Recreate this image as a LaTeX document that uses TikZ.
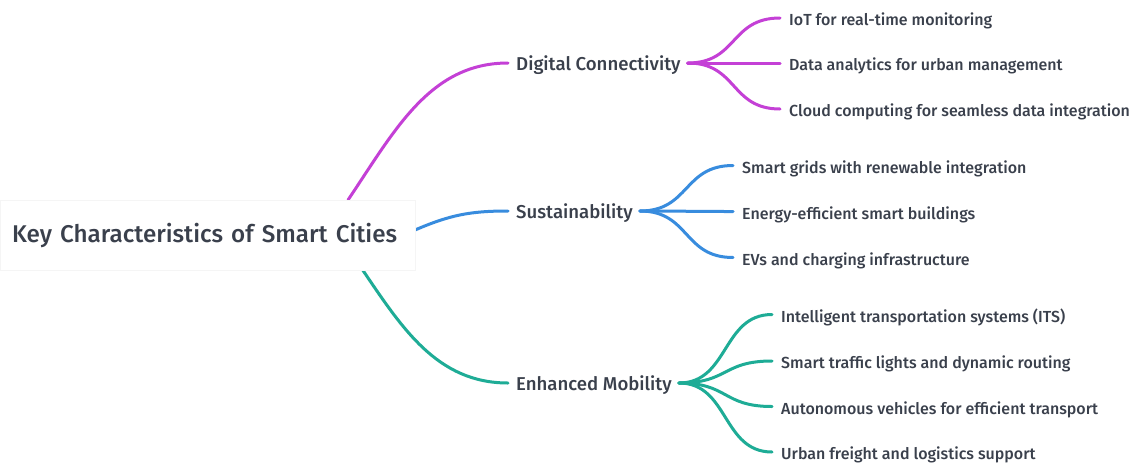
\documentclass[tikz,border=0pt]{standalone}
\usepackage{fontspec}
\setmainfont{Fira Sans}[UprightFont={* Medium}]
\usetikzlibrary{calc,backgrounds}
\definecolor{txt}{RGB}{58,64,76}
\definecolor{cmag}{RGB}{196,64,214}
\definecolor{cblu}{RGB}{56,140,222}
\definecolor{cteal}{RGB}{30,172,150}
\begin{document}
\begin{tikzpicture}[x=1pt,y=-1pt,
  link/.style={line width=3pt, line cap=round},
  rootbox/.style={anchor=west, fill=white, draw=black!4, text width=391pt, inner xsep=12pt, minimum height=70pt, align=left, text=txt, font=\fontsize{24.2}{24.2}\selectfont},
  lbl/.style={anchor=base west, inner sep=0pt, text=txt, font=\fontsize{18.6}{18.6}\selectfont},
  leaf/.style={anchor=base west, inner sep=0pt, text=txt, font=\fontsize{16}{16}\selectfont},
]
\useasboundingbox (0,0) rectangle (1137,464);
% root
\node[rootbox] (root) at (0,235) {Key Characteristics of Smart Cities};
% branches
\node[lbl] (dc) at (516,70.5) {Digital Connectivity};
\node[lbl] (su) at (516,218.5) {Sustainability};
\node[lbl] (em) at (516,390.5) {Enhanced Mobility};
% leaves
\node[leaf] (d1) at (789,25.5) {IoT for real-time monitoring};
\node[leaf] (d2) at (789,70.5) {Data analytics for urban management};
\node[leaf] (d3) at (789,116.5) {Cloud computing for seamless data integration};
\node[leaf] (s1) at (742,173) {Smart grids with renewable integration};
\node[leaf] (s2) at (742,219) {Energy-efficient smart buildings};
\node[leaf] (s3) at (742,265) {EVs and charging infrastructure};
\node[leaf] (e1) at (781,322) {Intelligent transportation systems (ITS)};
\node[leaf] (e2) at (781,368.5) {Smart traffic lights and dynamic routing};
\node[leaf] (e3) at (781,414) {Autonomous vehicles for efficient transport};
\node[leaf] (e4) at (781,459.5) {Urban freight and logistics support};
% anchor coordinates
\coordinate (m0) at (348,200);
\coordinate (b0) at (415,230);
\coordinate (t0) at (362,269);
\coordinate (dcL) at ($(dc.base west)+(-8,-7.5)$);
\coordinate (suL) at ($(su.base west)+(-8,-7.5)$);
\coordinate (emL) at ($(em.base west)+(-8,-7.5)$);
\coordinate (dcR) at ($(dc.base east)+(7,-7.5)$);
\coordinate (suR) at ($(su.base east)+(7,-7.5)$);
\coordinate (emR) at ($(em.base east)+(7,-7.5)$);
\foreach \n in {d1,d2,d3,s1,s2,s3,e1,e2,e3,e4}{
  \coordinate (\n L) at ($(\n.base west)+(-9,-7.5)$);
}
\begin{pgfonlayer}{background}
\fill[white] (0,0) rectangle (1137,464);
\draw[link,cmag] (m0) .. controls (395,130) and (430,63) .. (dcL);
\draw[link,cblu] (b0) .. controls (450,215) and (470,211) .. (suL);
\draw[link,cteal] (t0) .. controls (402,328) and (437,383) .. (emL);
\foreach \n in {d1,d2,d3}{
  \draw[link,cmag] (dcR) .. controls +(50,0) and +(-50,0) .. (\n L);
}
\foreach \n in {s1,s2,s3}{
  \draw[link,cblu] (suR) .. controls +(50,0) and +(-50,0) .. (\n L);
}
\foreach \n in {e1,e2,e3,e4}{
  \draw[link,cteal] (emR) .. controls +(50,0) and +(-50,0) .. (\n L);
}
\end{pgfonlayer}
\end{tikzpicture}
\end{document}
